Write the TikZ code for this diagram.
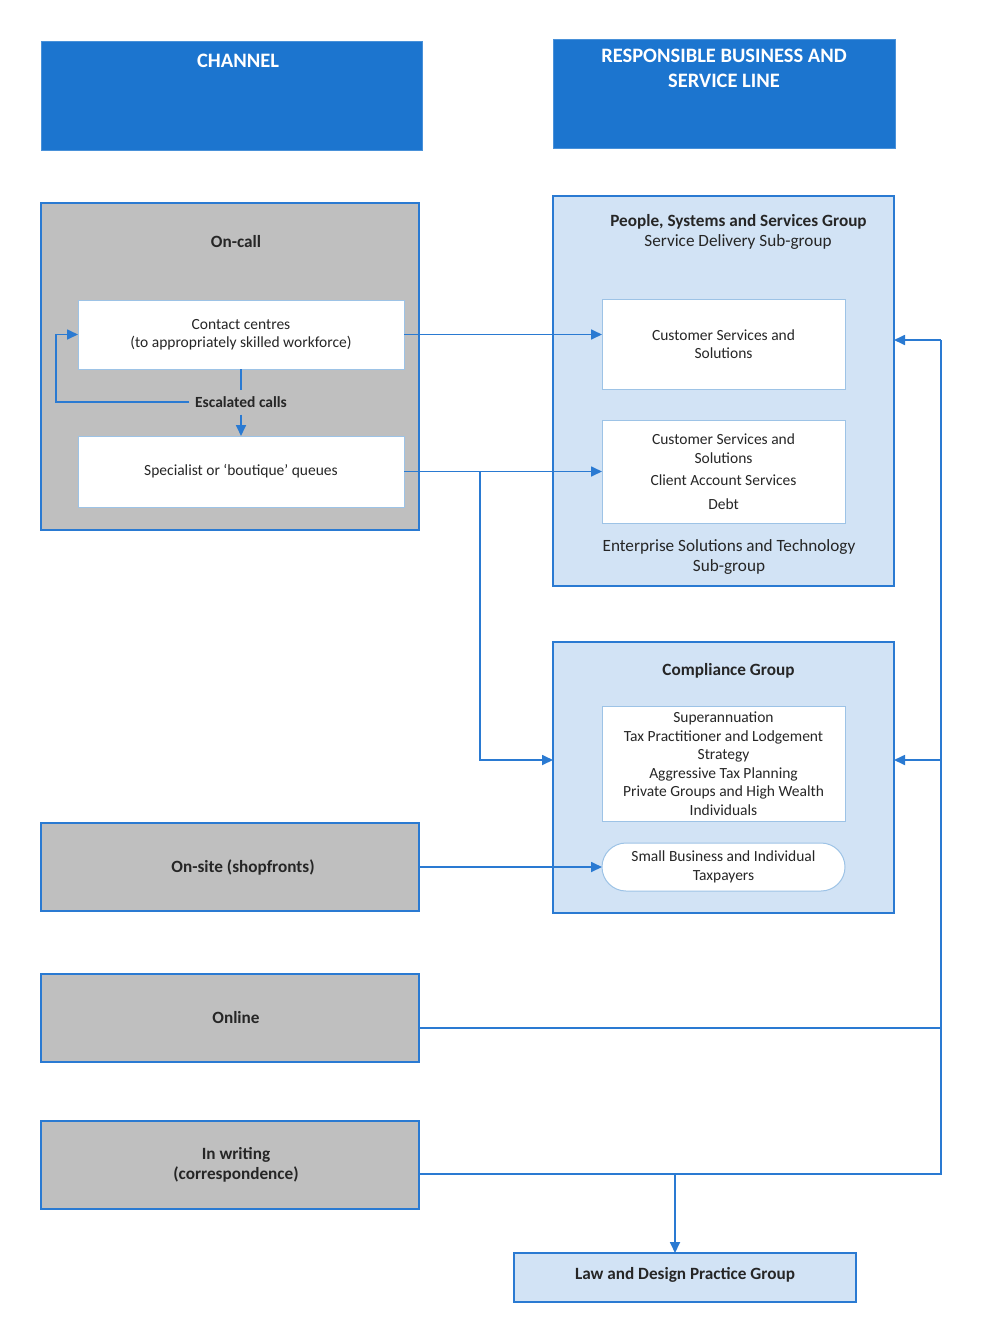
\documentclass[tikz,border=0pt]{standalone}
\usepackage{fontspec}
\setmainfont{Carlito}
\usetikzlibrary{arrows.meta,calc}
\definecolor{hdr}{HTML}{1C75CF}
\definecolor{ln}{HTML}{2A7AD2}
\definecolor{lb}{HTML}{D2E3F5}
\definecolor{gr}{HTML}{BFBFBF}
\definecolor{ib}{HTML}{9DC3E6}
\definecolor{tx}{HTML}{262626}
\begin{document}
\begin{tikzpicture}[x=1pt,y=-1pt,
  every node/.style={text=tx, inner sep=0pt, outer sep=0pt},
  hdrbox/.style={draw=hdr!80!white, line width=1pt, fill=hdr},
  hdrtxt/.style={text=white, font=\fontsize{20.5}{24.5}\selectfont\bfseries, align=center},
  chanbox/.style={draw=ln, line width=1.3pt, fill=gr},
  grpbox/.style={draw=ln, line width=1.3pt, fill=lb},
  inbox/.style={draw=ib, line width=1pt, fill=white, align=center,
    font=\fontsize{15.5}{18.5}\selectfont},
  ttl/.style={font=\fontsize{17.2}{20.5}\selectfont\bfseries, align=center},
  sub/.style={font=\fontsize{17.2}{20.5}\selectfont, align=center},
  conn/.style={draw=ln, line width=1.7pt, -{Triangle[length=11pt,width=10pt]}},
  plain/.style={draw=ln, line width=1.7pt}
]
\useasboundingbox (0,0) rectangle (984,1341);
\fill[white] (0,0) rectangle (984,1341);

% headers
\node[hdrbox, minimum width=381pt, minimum height=109pt] (chan) at (231.5,95.5) {};
\node[hdrtxt] (chant) at (238,61) {CHANNEL};
\node[hdrbox, minimum width=342pt, minimum height=109pt] (resp) at (724,93.5) {};
\node[hdrtxt] (respt) at (724,68.5) {RESPONSIBLE BUSINESS AND\\SERVICE LINE};

% on-call
\node[chanbox, minimum width=378pt, minimum height=327pt] (oncall) at (230,366.5) {};
\node[ttl] (oncallt) at (236,242) {On-call};
\node[inbox, minimum width=326pt, minimum height=69pt] (contact) at (241,334.5) {Contact centres\\(to appropriately skilled workforce)};
\node[inbox, minimum width=326pt, minimum height=71pt] (spec) at (241,471.5) {Specialist or ‘boutique’ queues};
\node[ttl, font=\fontsize{15.5}{18}\selectfont\bfseries, inner xsep=6pt, minimum height=25pt] (esc) at (241,402) {Escalated calls};

% people systems group
\node[grpbox, minimum width=341pt, minimum height=390pt] (pss) at (723.5,391) {};
\node[ttl] (psst) at (738.5,222) {People, Systems and Services Group};
\node[sub] (psss) at (738,242) {Service Delivery Sub-group};
\node[inbox, minimum width=243pt, minimum height=90pt] (css1) at (723.5,344) {Customer Services and\\Solutions};
\node[inbox, minimum width=243pt, minimum height=103pt] (css2) at (723.5,471.5) {Customer Services and\\Solutions\\[4pt]Client Account Services\\[5pt]Debt};
\node[sub] (est) at (729,557) {Enterprise Solutions and Technology\\Sub-group};

% compliance group
\node[grpbox, minimum width=341pt, minimum height=271pt] (compl) at (723.5,777.5) {};
\node[ttl] (complt) at (728.5,671) {Compliance Group};
\node[inbox, minimum width=243pt, minimum height=115pt] (inner) at (723.5,763.5) {Superannuation\\Tax Practitioner and Lodgement\\Strategy\\Aggressive Tax Planning\\Private Groups and High Wealth\\Individuals};
\node[inbox, minimum width=243pt, minimum height=48pt, rounded corners=24pt] (sbi) at (723.5,867) {Small Business and Individual\\Taxpayers};

% other channels
\node[chanbox, minimum width=378pt, minimum height=88pt] (onsite) at (230,867) {};
\node[ttl] (onsitet) at (243,867) {On-site (shopfronts)};
\node[chanbox, minimum width=378pt, minimum height=88pt] (online) at (230,1018) {};
\node[ttl] (onlinet) at (236,1018) {Online};
\node[chanbox, minimum width=378pt, minimum height=88pt] (writing) at (230,1165) {};
\node[ttl] (writingt) at (236,1165) {In writing\\(correspondence)};

% law
\node[grpbox, minimum width=342pt, minimum height=49pt] (law) at (685,1277.5) {};
\node[ttl] (lawt) at (685,1275) {Law and Design Practice Group};

% coordinates
\coordinate (lp) at ($(contact.west)+(-22,0)$);
\coordinate (br) at (480,471.5);
\coordinate (cin) at ($(compl.west)+(0,-17.5)$);
\coordinate (busT) at (941,340);
\coordinate (busM) at (941,760);
\coordinate (on1) at ($(online.east)+(0,10)$);
\coordinate (wr1) at ($(writing.east)+(0,9)$);
\coordinate (lawin) at ($(law.north)+(-10,0)$);

% connectors
\draw[plain] (contact.south) -- (esc.north);
\draw[conn] (esc.south) -- (spec.north);
\draw[conn] (esc.west) -| (lp) -- (contact.west);
\draw[conn] (contact.east) -- (contact.east -| css1.west);
\draw[conn] (spec.east) -- (spec.east -| css2.west);
\draw[conn] (br) |- (cin);
\draw[conn] (onsite.east) -- (sbi.west);
\draw[plain] (on1) -- (on1 -| busT);
\draw[plain] (wr1) -| (busT);
\draw[conn] (busT) -- (busT -| pss.east);
\draw[conn] (busM) -- (busM -| compl.east);
\draw[conn] (lawin |- wr1) -- (lawin);
\end{tikzpicture}
\end{document}
